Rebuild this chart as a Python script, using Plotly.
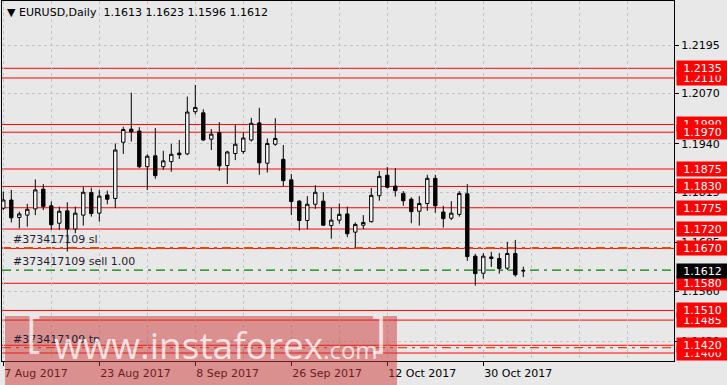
import plotly.graph_objects as go
import pandas as pd

# ---------------- data ----------------
dates = pd.bdate_range("2017-08-07", "2017-11-06")
opens = [1.1774,1.1795,1.1750,1.1756,1.1772,1.1823,1.1780,1.1735,1.1767,1.1720,
         1.1756,1.1814,1.1761,1.1808,1.1799,1.1944,1.1978,1.1973,1.1881,1.1909,
         1.1881,1.1894,1.1916,1.1914,1.2023,1.2020,1.1952,1.1969,1.1884,1.1915,
         1.1920,1.1950,1.1994,1.1890,1.1939,1.1900,1.1847,1.1792,1.1742,1.1784,
         1.1792,1.1729,1.1743,1.1759,1.1712,1.1730,1.1739,1.1806,1.1859,1.1831,
         1.1812,1.1797,1.1766,1.1786,1.1851,1.1764,1.1748,1.1758,1.1811,1.1650,
         1.1606,1.1648,1.1644,1.1619,1.1657,1.1613]
highs = [1.1817,1.1821,1.1765,1.1785,1.1848,1.1836,1.1791,1.1778,1.1789,1.1778,
         1.1829,1.1827,1.1821,1.1819,1.1941,1.1984,1.2072,1.1983,1.1913,1.1981,
         1.1922,1.1940,1.1950,1.2062,1.2092,1.2029,1.1978,1.1996,1.1922,1.1989,
         1.1969,1.2007,1.2033,1.1954,1.2006,1.1937,1.1862,1.1795,1.1805,1.1833,
         1.1815,1.1775,1.1786,1.1778,1.1737,1.1756,1.1826,1.1870,1.1880,1.1877,
         1.1818,1.1802,1.1805,1.1860,1.1860,1.1780,1.1792,1.1818,1.1836,1.1656,
         1.1658,1.1661,1.1658,1.1687,1.1692,1.1623]
lows = [1.1769,1.1737,1.1722,1.1726,1.1756,1.1769,1.1718,1.1718,1.1662,1.1709,
        1.1729,1.1752,1.1739,1.1784,1.1774,1.1914,1.1946,1.1877,1.1821,1.1850,
        1.1873,1.1868,1.1901,1.1911,1.2016,1.1947,1.1924,1.1870,1.1836,1.1898,
        1.1914,1.1946,1.1860,1.1866,1.1935,1.1831,1.1756,1.1716,1.1720,1.1772,
        1.1728,1.1695,1.1734,1.1699,1.1673,1.1720,1.1737,1.1793,1.1825,1.1804,
        1.1780,1.1735,1.1729,1.1767,1.1762,1.1724,1.1743,1.1752,1.1638,1.1574,
        1.1592,1.1622,1.1605,1.1614,1.1597,1.1596]
closes = [1.1795,1.1749,1.1759,1.1771,1.1821,1.1778,1.1731,1.1766,1.1720,1.1761,
          1.1815,1.1760,1.1805,1.1797,1.1924,1.1977,1.1971,1.1881,1.1908,1.1858,
          1.1896,1.1913,1.1912,1.2022,1.2034,1.1950,1.1965,1.1883,1.1919,1.1939,
          1.1955,1.1993,1.1891,1.1941,1.1954,1.1845,1.1791,1.1742,1.1784,1.1815,
          1.1730,1.1743,1.1758,1.1708,1.1732,1.1737,1.1807,1.1856,1.1828,1.1819,
          1.1793,1.1765,1.1786,1.1851,1.1780,1.1747,1.1761,1.1812,1.1649,1.1605,
          1.1650,1.1644,1.1618,1.1657,1.1602,1.1612]

date_tick_idx = [0, 12, 24, 36, 48, 60]
date_tick_labels = ["7 Aug 2017", "23 Aug 2017", "8 Sep 2017", "26 Sep 2017", "12 Oct 2017", "30 Oct 2017"]
price_ticks = [1.2195, 1.2070, 1.1940, 1.1815, 1.1685, 1.1560, 1.1430]
# horizontal levels, listed in drawing order for their labels
level_prices = [1.2110, 1.2135, 1.1990, 1.1970, 1.1875, 1.1830, 1.1775, 1.1720,
                1.1670, 1.1580, 1.1485, 1.1510, 1.1400, 1.1420]
sl_price = 1.1671
entry_price = 1.1614
tp_price = 1.1414
last_price = 1.1612
order_id = "#373417109"
header = "▼ EURUSD,Daily  1.1613 1.1623 1.1596 1.1612"

# ---------------- figure ----------------
W, H = 727, 385
L, R, T, B = 2, 53, 1, 24
pw, ph = W - L - R, H - T - B
def px(x):
    return (x - L) / pw
def py(y):
    return (H - B - y) / ph

FONT = "DejaVu Sans"
idx = list(range(len(opens)))

fig = go.Figure()
fig.add_trace(go.Candlestick(
    x=idx, open=opens, high=highs, low=lows, close=closes,
    increasing=dict(line=dict(color="black", width=1), fillcolor="white"),
    decreasing=dict(line=dict(color="black", width=1), fillcolor="black"),
    whiskerwidth=0, showlegend=False, hoverinfo="skip",
))

shapes = []
for p in level_prices:
    shapes.append(dict(type="line", xref="paper", yref="y", x0=0, x1=1, y0=p, y1=p,
                       line=dict(color="#ff0000", width=1), layer="below"))
shapes.append(dict(type="line", xref="paper", yref="y", x0=0, x1=1, y0=sl_price, y1=sl_price,
                   line=dict(color="#ff4000", width=2, dash="9px,5px,3px,5px"), layer="below"))
shapes.append(dict(type="line", xref="paper", yref="y", x0=0, x1=1, y0=entry_price, y1=entry_price,
                   line=dict(color="#008000", width=1.3, dash="9px,5px,3px,5px"), layer="below"))
shapes.append(dict(type="line", xref="paper", yref="y", x0=0, x1=1, y0=tp_price, y1=tp_price,
                   line=dict(color="#ff4000", width=1.3, dash="9px,5px,3px,5px"), layer="below"))
# watermark box
shapes.append(dict(type="rect", xref="paper", yref="paper", x0=px(5), x1=px(397), y0=py(385), y1=py(316),
                   fillcolor="rgba(205,55,55,0.5)", line=dict(width=0), layer="above"))

ann = []
# header
ann.append(dict(xref="paper", yref="paper", x=px(5), y=py(12.5), xanchor="left", yanchor="middle",
                text=header, showarrow=False, font=dict(family=FONT, size=11, color="black")))
# order labels
for txt, p in [(order_id + " sl", 1.1670), (order_id + " sell 1.00", entry_price), (order_id + " tp", tp_price)]:
    ann.append(dict(xref="paper", yref="y", x=px(11), y=p, xanchor="left", yanchor="bottom",
                    text=txt, showarrow=False, font=dict(family=FONT, size=11, color="#1e1e2e")))
# level labels on the right
for p in level_prices:
    ann.append(dict(xref="paper", yref="y", x=1, y=p, xanchor="left", yanchor="middle", xshift=2,
                    text=f"{p:.4f}", showarrow=False, bgcolor="#ff0000", width=47, height=10,
                    borderpad=2, align="center", font=dict(family=FONT, size=11, color="white")))
ann.append(dict(xref="paper", yref="y", x=1, y=last_price, xanchor="left", yanchor="middle", xshift=2,
                text=f"{last_price:.4f}", showarrow=False, bgcolor="#000000", width=47, height=10,
                borderpad=2, align="center", font=dict(family=FONT, size=11, color="white")))
# watermark text
wm_font = dict(family="Open Sans", color="rgba(255,255,255,0.75)")
ann.append(dict(xref="paper", yref="paper", x=px(24), y=py(362), xanchor="left", yanchor="bottom",
                text="[", showarrow=False, font=dict(size=44, **wm_font)))
ann.append(dict(xref="paper", yref="paper", x=px(52), y=py(372), xanchor="left", yanchor="bottom",
                text="www.instaforex<span style='font-size:24px'>.com</span>", showarrow=False,
                font=dict(size=37, **wm_font)))
ann.append(dict(xref="paper", yref="paper", x=px(370), y=py(362), xanchor="left", yanchor="bottom",
                text="]", showarrow=False, font=dict(size=44, **wm_font)))

fig.update_layout(
    width=W, height=H,
    margin=dict(l=L, r=R, t=T, b=B, pad=0),
    paper_bgcolor="#e8e8e8", plot_bgcolor="#e8e8e8",
    shapes=shapes, annotations=ann,
    boxgap=0.4,
    xaxis=dict(range=[-0.1625, -0.1625 + pw / 8], rangeslider=dict(visible=False),
               tickvals=date_tick_idx, ticktext=date_tick_labels,
               ticks="outside", ticklen=4, tickcolor="black",
               ticklabelposition="outside right", ticklabelstandoff=2,
               tickfont=dict(family=FONT, size=11, color="black"),
               showgrid=True, gridcolor="#c4c4c4", griddash="3px,3px", gridwidth=1,
               minor=dict(dtick=6, tick0=0, showgrid=True, gridcolor="#c4c4c4", griddash="3px,3px", ticklen=0),
               showline=True, linecolor="black", linewidth=1, mirror=True, zeroline=False, fixedrange=True),
    yaxis=dict(range=[1.13794, 1.23087], side="right",
               tickvals=price_ticks, ticktext=[f"{v:.4f}" for v in price_ticks],
               ticks="outside", ticklen=4, tickcolor="black",
               tickfont=dict(family=FONT, size=11, color="black"),
               showgrid=True, gridcolor="#c4c4c4", griddash="3px,3px", gridwidth=1,
               showline=True, linecolor="black", linewidth=1, mirror=True, zeroline=False, fixedrange=True),
)

fig.write_html("out.html")
